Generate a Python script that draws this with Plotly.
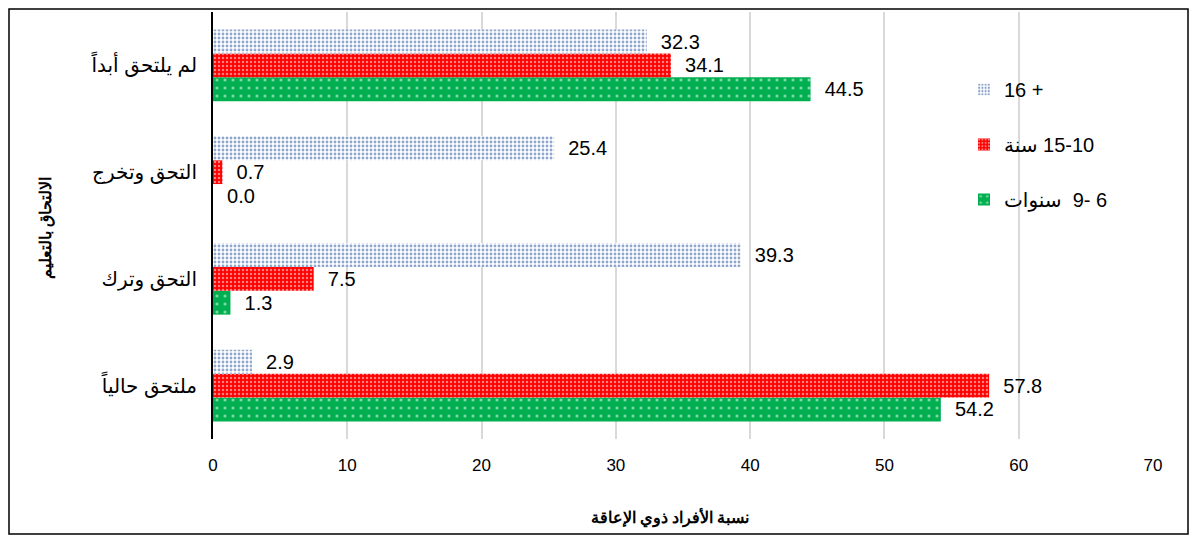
import plotly.graph_objects as go

categories = ["ملتحق حالياً", "التحق وترك", "التحق وتخرج", "لم يلتحق أبداً"]
series_names = ["سنوات\u200e  9- 6", "سنة\u200e 15-10", "16 +"]
vals_6_9 = [54.2, 1.3, 0.0, 44.5]
vals_10_15 = [57.8, 7.5, 0.7, 34.1]
vals_16 = [2.9, 39.3, 25.4, 32.3]
x_ticks = [0, 10, 20, 30, 40, 50, 60, 70]
x_title = "نسبة الأفراد ذوي الإعاقة"
y_title = "الالتحاق بالتعليم"

FONT = "Arial, Liberation Sans, DejaVu Sans, sans-serif"

styles = [
    dict(color="#00b050", pattern=dict(shape=".", fgcolor="#ffffff", size=8, solidity=0.12)),
    dict(color="#ff0000", pattern=dict(shape=".", fgcolor="#ffffff", size=4, solidity=0.3)),
    dict(color="#ffffff", pattern=dict(shape=".", fgcolor="#1f4e9c", size=4, solidity=0.4)),
]
ranks = [3, 2, 1]

fig = go.Figure()
for i, (name, vals) in enumerate(zip(series_names, [vals_6_9, vals_10_15, vals_16])):
    fig.add_trace(go.Bar(
        y=categories, x=vals, name=name, orientation="h",
        marker=dict(color=styles[i]["color"], pattern=styles[i]["pattern"], line=dict(width=0)),
        text=[f"{v:.1f}" for v in vals],
        texttemplate="  %{text}",
        textposition="outside",
        textfont=dict(size=20, color="#000000", family=FONT),
        cliponaxis=False,
        legendgroup=f"g{i}",
        legendrank=ranks[i],
    ))

# the page body adds an 8px offset; size the figure to fit the window
OFF = 8
W, H = 1197 - 2 * OFF, 543 - 2 * OFF
L, R, T, B = 213 - OFF, (1197 - OFF) - 1153, 12 - OFF, (543 - OFF) - 439
pw, ph = W - L - R, H - T - B

def px_to_paper_x(px):
    return (px - OFF - L) / pw

def px_to_paper_y(py):
    return (H - B - (py - OFF)) / ph

fig.update_layout(
    width=W, height=H,
    margin=dict(l=L, r=R, t=T, b=B, autoexpand=False),
    paper_bgcolor="#ffffff", plot_bgcolor="#ffffff",
    barmode="group", bargap=0.33, bargroupgap=0,
    font=dict(family=FONT, color="#000000"),
    showlegend=True,
    legend=dict(
        traceorder="grouped", x=px_to_paper_x(964), y=px_to_paper_y(70),
        xanchor="left", yanchor="top", bgcolor="rgba(0,0,0,0)",
        font=dict(size=20, family=FONT), tracegroupgap=26,
        itemwidth=30,
    ),
    xaxis=dict(
        range=[0, 70], tickvals=x_ticks, showgrid=True, gridcolor="#d9d9d9", gridwidth=1.5,
        zeroline=False, showline=False, tickfont=dict(size=17, family=FONT),
        ticklabelstandoff=14, fixedrange=True,
    ),
    yaxis=dict(
        showline=True, linecolor="#000000", linewidth=2, showgrid=False,
        tickfont=dict(size=20, family=FONT), ticklabelstandoff=10, fixedrange=True,
    ),
    annotations=[
        dict(text=f"<b>{x_title}</b>", xref="paper", yref="paper",
             x=px_to_paper_x(670), y=px_to_paper_y(517), showarrow=False,
             font=dict(size=16, family="Times New Roman, Liberation Serif, DejaVu Serif, serif"),
             xanchor="center", yanchor="middle"),
        dict(text=f"<b>{y_title}</b>", xref="paper", yref="paper",
             x=px_to_paper_x(46), y=px_to_paper_y(228), showarrow=False, textangle=-90,
             font=dict(size=16, family="Times New Roman, Liberation Serif, DejaVu Serif, serif"),
             xanchor="center", yanchor="middle"),
    ],
    shapes=[
        dict(type="rect", xref="paper", yref="paper",
             x0=px_to_paper_x(OFF + 1), x1=px_to_paper_x(OFF + W - 1),
             y0=px_to_paper_y(OFF + H - 1), y1=px_to_paper_y(OFF + 1),
             line=dict(color="#000000", width=1.5), fillcolor="rgba(0,0,0,0)", layer="above"),
    ],
)

fig.write_html("out.html")
